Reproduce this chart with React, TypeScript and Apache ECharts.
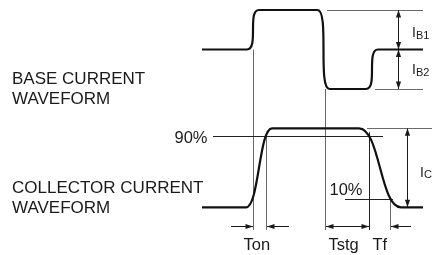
import React, { useEffect, useRef } from "react";
import * as echarts from "echarts";

// ---- data (time in arbitrary units, levels in units of the waveform) ----
const baseTimes = [20.2, 24.7, 25.9, 31.75, 32.95, 36.6, 37.8, 42.3];
const baseLevels = [0, 0, 1, 1, -1, -1, 0, 0]; // +1 = IB1, -1 = IB2
const collectorTimes = [20.2, 24.6, 27.2, 35.9, 40.1, 42.3];
const collectorLevels = [0, 0, 100, 100, 0, 0]; // % of IC
const percentLevels = [90, 10];
const percentLabels = ["90%", "10%"];
const timeLabels = ["Ton", "Tstg", "Tf"];
const baseLabel = ["BASE CURRENT", "WAVEFORM"];
const collectorLabel = ["COLLECTOR CURRENT", "WAVEFORM"];
// key instants
const tBaseOn = 25.3;
const tC90Rise = 26.6;
const tBaseOff = 32.5;
const tC90Fall = 36.9;
const tC10Fall = 39.0;

const FONT = '"Liberation Sans", Arial, sans-serif';
const INK = "#1a1a1a";
const GUIDE = "#6a6a6a";

export default function App() {
  const ref = useRef<HTMLDivElement>(null);
  useEffect(() => {
    document.body.style.margin = "0";
    const chart = echarts.init(ref.current!, null, { renderer: "svg" });
    const xCommon: any = { type: "value", min: 0, max: 43.2, show: false };
    chart.setOption({
      animation: false,
      grid: [
        { left: 0, right: 0, top: 10, height: 79 },
        { left: 0, right: 0, top: 128.3, height: 79 },
      ],
      xAxis: [
        { ...xCommon, gridIndex: 0 },
        { ...xCommon, gridIndex: 1 },
      ],
      yAxis: [
        { type: "value", gridIndex: 0, min: -1, max: 1, show: false },
        { type: "value", gridIndex: 1, min: 0, max: 100, show: false },
      ],
      series: [
        {
          type: "line",
          xAxisIndex: 0,
          yAxisIndex: 0,
          data: baseTimes.map((t, i) => [t, baseLevels[i]]),
          smooth: 1,
          smoothMonotone: "x",
          showSymbol: false,
          clip: false,
          silent: true,
          lineStyle: { color: "#111", width: 2.2, join: "round" },
        },
        {
          type: "line",
          xAxisIndex: 1,
          yAxisIndex: 1,
          data: collectorTimes.map((t, i) => [t, collectorLevels[i]]),
          smooth: 0.5,
          smoothMonotone: "x",
          showSymbol: false,
          clip: false,
          silent: true,
          lineStyle: { color: "#111", width: 2.2, join: "round" },
        },
      ],
    });

    const b = (t: number, v: number) => chart.convertToPixel({ gridIndex: 0 }, [t, v]) as number[];
    const c = (t: number, v: number) => chart.convertToPixel({ gridIndex: 1 }, [t, v]) as number[];
    const crisp = (v: number) => Math.round(v) + 0.5;
    const ROW_Y = 226.5;
    const GUIDE_END = 230;
    const els: any[] = [];

    const line = (x1: number, y1: number, x2: number, y2: number, stroke: string) => {
      els.push({
        type: "line",
        silent: true,
        shape: { x1, y1, x2, y2 },
        style: { stroke, lineWidth: 1 },
      });
    };
    const head = (tipX: number, tipY: number, dx: number, dy: number) => {
      const L = 7.5, W = 2.6;
      const bx = tipX - dx * L, by = tipY - dy * L;
      const px = -dy, py = dx;
      els.push({
        type: "polygon",
        silent: true,
        shape: { points: [[tipX, tipY], [bx + px * W, by + py * W], [bx - px * W, by - py * W]] },
        style: { fill: INK },
      });
    };
    const arrow = (x1: number, y1: number, x2: number, y2: number, startHead: boolean, endHead: boolean) => {
      line(x1, y1, x2, y2, INK);
      const len = Math.hypot(x2 - x1, y2 - y1);
      const ux = (x2 - x1) / len, uy = (y2 - y1) / len;
      if (endHead) head(x2, y2, ux, uy);
      if (startHead) head(x1, y1, -ux, -uy);
    };
    const text = (s: string, x: number, y: number, size: number) => {
      els.push({
        type: "text",
        silent: true,
        x,
        y,
        style: {
          text: s,
          font: `${size}px ${FONT}`,
          fill: INK,
          align: "left",
          verticalAlign: "middle",
        },
      });
    };

    // vertical guides
    line(crisp(b(tBaseOn, 0)[0]), b(tBaseOn, 0)[1], crisp(b(tBaseOn, 0)[0]), GUIDE_END, GUIDE);
    line(crisp(c(tC90Rise, 90)[0]), c(tC90Rise, 90)[1], crisp(c(tC90Rise, 90)[0]), GUIDE_END, GUIDE);
    line(crisp(b(tBaseOff, -1)[0]), b(tBaseOff, -1)[1], crisp(b(tBaseOff, -1)[0]), GUIDE_END, GUIDE);
    line(crisp(c(tC90Fall, 95)[0]), c(tC90Fall, 95)[1], crisp(c(tC90Fall, 95)[0]), GUIDE_END, "#222");
    line(crisp(c(tC10Fall, 10)[0]), c(tC10Fall, 10)[1], crisp(c(tC10Fall, 10)[0]), GUIDE_END, GUIDE);

    // horizontal reference lines
    line(b(32.7, 1)[0], crisp(b(32.7, 1)[1]), b(42.3, 1)[0], crisp(b(42.3, 1)[1]), GUIDE);
    line(b(37.5, -1)[0], crisp(b(37.5, -1)[1]), b(42.3, -1)[0], crisp(b(42.3, -1)[1]), GUIDE);
    line(c(36.7, 100)[0], crisp(c(36.7, 100)[1]), c(43.2, 100)[0], crisp(c(43.2, 100)[1]), GUIDE);
    line(c(21.3, percentLevels[0])[0], crisp(c(0, percentLevels[0])[1]), c(38.3, 0)[0], crisp(c(0, percentLevels[0])[1]), "#222");
    line(c(34.5, percentLevels[1])[0], crisp(c(0, percentLevels[1])[1]), c(39.3, 0)[0], crisp(c(0, percentLevels[1])[1]), "#222");

    // amplitude arrows
    const xIB = crisp(b(39.8, 0)[0]);
    arrow(xIB, b(0, 1)[1], xIB, b(0, 0)[1], true, true);
    arrow(xIB, b(0, 0)[1], xIB, b(0, -1)[1], true, true);
    const xIC = crisp(c(40.65, 0)[0]);
    arrow(xIC, c(0, 100)[1], xIC, c(0, 0)[1], true, true);

    // timing arrows
    const tx = (t: number) => b(t, 0)[0];
    arrow(tx(23.1), ROW_Y, crisp(tx(tBaseOn)) - 0.5, ROW_Y, false, true);
    arrow(tx(28.9), ROW_Y, crisp(tx(tC90Rise)) + 0.5, ROW_Y, false, true);
    arrow(crisp(tx(tBaseOff)) + 0.5, ROW_Y, crisp(tx(tC90Fall)) - 0.5, ROW_Y, true, true);
    arrow(tx(41.1), ROW_Y, crisp(tx(tC10Fall)) + 0.5, ROW_Y, false, true);

    // texts
    const BIG = 17;
    text(baseLabel[0], 12, 78.6, BIG);
    text(baseLabel[1], 12, 98.8, BIG);
    text(collectorLabel[0], 12, 187.2, BIG);
    text(collectorLabel[1], 12, 207.4, BIG);
    text(percentLabels[0], 174.5, 137.4, 16.5);
    text(percentLabels[1], 329.5, 188.6, 16.5);
    text(timeLabels[0], 243.5, 244.2, 16.5);
    text(timeLabels[1], 328.5, 244.2, 16.5);
    text(timeLabels[2], 372.5, 244.2, 16.5);
    text("I", 412, 31.8, 14);
    text("B1", 416, 34.6, 11);
    text("I", 412, 69.2, 14);
    text("B2", 416, 71.8, 11);
    text("I", 420, 171.8, 14);
    text("C", 424, 173.8, 11);

    chart.setOption({ graphic: { elements: els } });
    return () => chart.dispose();
  }, []);
  return <div ref={ref} style={{ position: "fixed", left: 0, top: 0, width: 432, height: 255 }} />;
}
